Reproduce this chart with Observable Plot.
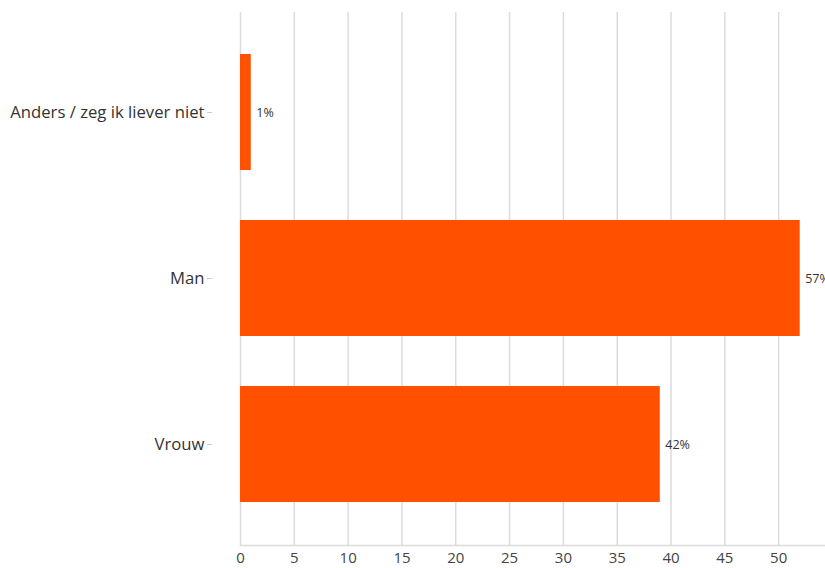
<!DOCTYPE html>
<html>
<head>
<meta charset="utf-8">
<script src="https://cdn.jsdelivr.net/npm/d3@7"></script>
<script src="https://cdn.jsdelivr.net/npm/@observablehq/plot@0.6"></script>
<style>
  html, body { margin: 0; padding: 0; background: #fff; }
  #chart svg { display: block; font-family: "Open Sans", sans-serif; }
</style>
</head>
<body>
<div id="chart"></div>
<script>
const categories = ["Anders / zeg ik liever niet", "Man", "Vrouw"];
const counts = [1, 52, 39];
const percentLabels = ["1%", "57%", "42%"];
const xTicks = [0, 5, 10, 15, 20, 25, 30, 35, 40, 45, 50];

const data = categories.map((c, i) => ({category: c, count: counts[i], label: percentLabels[i]}));

const chart = Plot.plot({
  width: 825,
  height: 568,
  marginTop: 12,
  marginBottom: 23,
  marginLeft: 240,
  marginRight: 0,
  style: {fontFamily: "'Open Sans', sans-serif", background: "#fff"},
  x: {domain: [0, 54.35], ticks: xTicks},
  y: {domain: categories, paddingInner: 0.3, paddingOuter: 0.25, label: null},
  marks: [
    Plot.gridX(xTicks, {stroke: "#dcdcdc", strokeOpacity: 1, strokeWidth: 1.5}),
    Plot.frame({anchor: "bottom", stroke: "#dcdcdc", strokeWidth: 1.5, className: "xbase"}),
    Plot.barX(data, {y: "category", x: "count", fill: "#ff5100"}),
    Plot.text(data, {y: "category", x: "count", text: "label", textAnchor: "start", dx: 5, fontSize: 12.5, fill: "#333"}),
    Plot.axisX(xTicks, {tickSize: 0, tickPadding: 7, fontSize: 15, fill: "#444", label: null}),
    Plot.axisY({tickSize: 5, dx: -28, stroke: "#cccccc", text: null, label: null}),
    Plot.axisY({tickSize: 0, tickPadding: 36, fontSize: 16.7, fill: "#333", label: null})
  ]
});

d3.select(chart).selectAll(".xbase line").attr("x1", 210).attr("x2", 825);
document.getElementById("chart").appendChild(chart);
</script>
</body>
</html>
